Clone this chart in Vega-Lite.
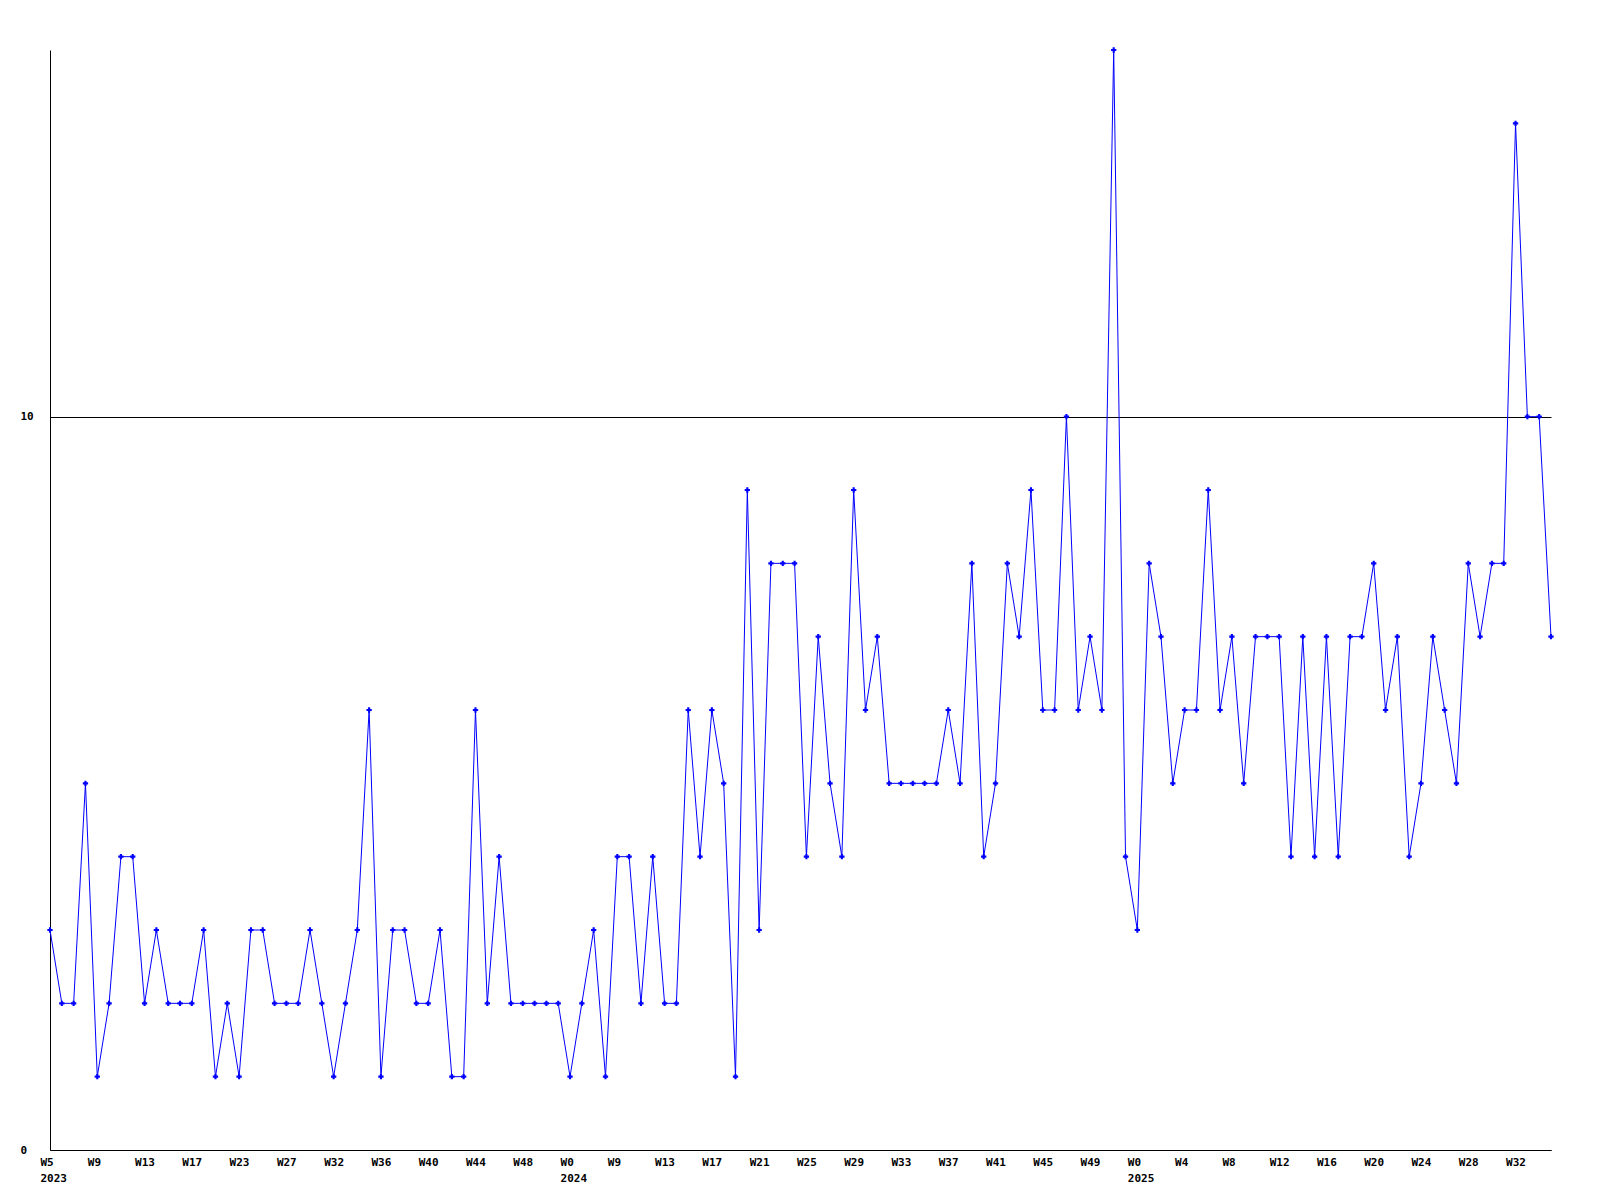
{
  "$schema": "https://vega.github.io/schema/vega-lite/v6.json",
  "autosize": {"type": "none"},
  "width": 1501,
  "height": 1100,
  "padding": {"left": 50, "top": 50, "right": 49, "bottom": 50},
  "background": "white",
  "config": {"view": {"stroke": null}},
  "data": {"values": [
    {"week": "2023|W5", "count": 3},
    {"week": "2023|W6", "count": 2},
    {"week": "2023|W7", "count": 2},
    {"week": "2023|W8", "count": 5},
    {"week": "2023|W9", "count": 1},
    {"week": "2023|W10", "count": 2},
    {"week": "2023|W11", "count": 4},
    {"week": "2023|W12", "count": 4},
    {"week": "2023|W13", "count": 2},
    {"week": "2023|W14", "count": 3},
    {"week": "2023|W15", "count": 2},
    {"week": "2023|W16", "count": 2},
    {"week": "2023|W17", "count": 2},
    {"week": "2023|W18", "count": 3},
    {"week": "2023|W20", "count": 1},
    {"week": "2023|W21", "count": 2},
    {"week": "2023|W23", "count": 1},
    {"week": "2023|W24", "count": 3},
    {"week": "2023|W25", "count": 3},
    {"week": "2023|W26", "count": 2},
    {"week": "2023|W27", "count": 2},
    {"week": "2023|W28", "count": 2},
    {"week": "2023|W29", "count": 3},
    {"week": "2023|W31", "count": 2},
    {"week": "2023|W32", "count": 1},
    {"week": "2023|W33", "count": 2},
    {"week": "2023|W34", "count": 3},
    {"week": "2023|W35", "count": 6},
    {"week": "2023|W36", "count": 1},
    {"week": "2023|W37", "count": 3},
    {"week": "2023|W38", "count": 3},
    {"week": "2023|W39", "count": 2},
    {"week": "2023|W40", "count": 2},
    {"week": "2023|W41", "count": 3},
    {"week": "2023|W42", "count": 1},
    {"week": "2023|W43", "count": 1},
    {"week": "2023|W44", "count": 6},
    {"week": "2023|W45", "count": 2},
    {"week": "2023|W46", "count": 4},
    {"week": "2023|W47", "count": 2},
    {"week": "2023|W48", "count": 2},
    {"week": "2023|W49", "count": 2},
    {"week": "2023|W50", "count": 2},
    {"week": "2023|W51", "count": 2},
    {"week": "2024|W0", "count": 1},
    {"week": "2024|W2", "count": 2},
    {"week": "2024|W5", "count": 3},
    {"week": "2024|W7", "count": 1},
    {"week": "2024|W9", "count": 4},
    {"week": "2024|W10", "count": 4},
    {"week": "2024|W11", "count": 2},
    {"week": "2024|W12", "count": 4},
    {"week": "2024|W13", "count": 2},
    {"week": "2024|W14", "count": 2},
    {"week": "2024|W15", "count": 6},
    {"week": "2024|W16", "count": 4},
    {"week": "2024|W17", "count": 6},
    {"week": "2024|W18", "count": 5},
    {"week": "2024|W19", "count": 1},
    {"week": "2024|W20", "count": 9},
    {"week": "2024|W21", "count": 3},
    {"week": "2024|W22", "count": 8},
    {"week": "2024|W23", "count": 8},
    {"week": "2024|W24", "count": 8},
    {"week": "2024|W25", "count": 4},
    {"week": "2024|W26", "count": 7},
    {"week": "2024|W27", "count": 5},
    {"week": "2024|W28", "count": 4},
    {"week": "2024|W29", "count": 9},
    {"week": "2024|W30", "count": 6},
    {"week": "2024|W31", "count": 7},
    {"week": "2024|W32", "count": 5},
    {"week": "2024|W33", "count": 5},
    {"week": "2024|W34", "count": 5},
    {"week": "2024|W35", "count": 5},
    {"week": "2024|W36", "count": 5},
    {"week": "2024|W37", "count": 6},
    {"week": "2024|W38", "count": 5},
    {"week": "2024|W39", "count": 8},
    {"week": "2024|W40", "count": 4},
    {"week": "2024|W41", "count": 5},
    {"week": "2024|W42", "count": 8},
    {"week": "2024|W43", "count": 7},
    {"week": "2024|W44", "count": 9},
    {"week": "2024|W45", "count": 6},
    {"week": "2024|W46", "count": 6},
    {"week": "2024|W47", "count": 10},
    {"week": "2024|W48", "count": 6},
    {"week": "2024|W49", "count": 7},
    {"week": "2024|W50", "count": 6},
    {"week": "2024|W51", "count": 15},
    {"week": "2024|W52", "count": 4},
    {"week": "2025|W0", "count": 3},
    {"week": "2025|W1", "count": 8},
    {"week": "2025|W2", "count": 7},
    {"week": "2025|W3", "count": 5},
    {"week": "2025|W4", "count": 6},
    {"week": "2025|W5", "count": 6},
    {"week": "2025|W6", "count": 9},
    {"week": "2025|W7", "count": 6},
    {"week": "2025|W8", "count": 7},
    {"week": "2025|W9", "count": 5},
    {"week": "2025|W10", "count": 7},
    {"week": "2025|W11", "count": 7},
    {"week": "2025|W12", "count": 7},
    {"week": "2025|W13", "count": 4},
    {"week": "2025|W14", "count": 7},
    {"week": "2025|W15", "count": 4},
    {"week": "2025|W16", "count": 7},
    {"week": "2025|W17", "count": 4},
    {"week": "2025|W18", "count": 7},
    {"week": "2025|W19", "count": 7},
    {"week": "2025|W20", "count": 8},
    {"week": "2025|W21", "count": 6},
    {"week": "2025|W22", "count": 7},
    {"week": "2025|W23", "count": 4},
    {"week": "2025|W24", "count": 5},
    {"week": "2025|W25", "count": 7},
    {"week": "2025|W26", "count": 6},
    {"week": "2025|W27", "count": 5},
    {"week": "2025|W28", "count": 8},
    {"week": "2025|W29", "count": 7},
    {"week": "2025|W30", "count": 8},
    {"week": "2025|W31", "count": 8},
    {"week": "2025|W32", "count": 14},
    {"week": "2025|W33", "count": 10},
    {"week": "2025|W34", "count": 10},
    {"week": "2025|W35", "count": 7}
  ]},
  "mark": {
    "type": "line",
    "color": "#0000FF",
    "strokeWidth": 1,
    "point": {"shape": "cross", "size": 28, "filled": true, "color": "#0000FF", "strokeWidth": 0}
  },
  "encoding": {
    "x": {
      "field": "week",
      "type": "ordinal",
      "sort": null,
      "scale": {"type": "point", "padding": 0},
      "axis": {
        "title": null,
        "values": ["2023|W5","2023|W9","2023|W13","2023|W17","2023|W23","2023|W27","2023|W32","2023|W36","2023|W40","2023|W44","2023|W48","2024|W0","2024|W9","2024|W13","2024|W17","2024|W21","2024|W25","2024|W29","2024|W33","2024|W37","2024|W41","2024|W45","2024|W49","2025|W0","2025|W4","2025|W8","2025|W12","2025|W16","2025|W20","2025|W24","2025|W28","2025|W32"],
        "labelExpr": "indexof(['2023|W5','2024|W0','2025|W0'], datum.value) >= 0 ? [split(datum.value,'|')[1], split(datum.value,'|')[0]] : split(datum.value,'|')[1]",
        "labelAngle": 0,
        "labelAlign": "left",
        "labelBaseline": "top",
        "labelOffset": -10,
        "labelPadding": 6,
        "labelLineHeight": 16,
        "labelOverlap": false,
        "labelBound": false,
        "labelFont": "DejaVu Sans Mono",
        "labelFontWeight": "bold",
        "labelFontSize": 11,
        "labelColor": "#000000",
        "ticks": false,
        "tickSize": 0,
        "grid": false,
        "domainColor": "#000000",
        "domainWidth": 1
      }
    },
    "y": {
      "field": "count",
      "type": "quantitative",
      "scale": {"domain": [0, 15], "nice": false, "zero": true},
      "axis": {
        "title": null,
        "values": [0, 10],
        "format": "d",
        "labelAlign": "left",
        "labelBaseline": "middle",
        "labelPadding": 30,
        "labelFont": "DejaVu Sans Mono",
        "labelFontWeight": "bold",
        "labelFontSize": 11,
        "labelColor": "#000000",
        "ticks": false,
        "tickSize": 0,
        "grid": true,
        "gridColor": "#000000",
        "gridOpacity": 1,
        "gridWidth": 1,
        "domainColor": "#000000",
        "domainWidth": 1
      }
    }
  }
}
